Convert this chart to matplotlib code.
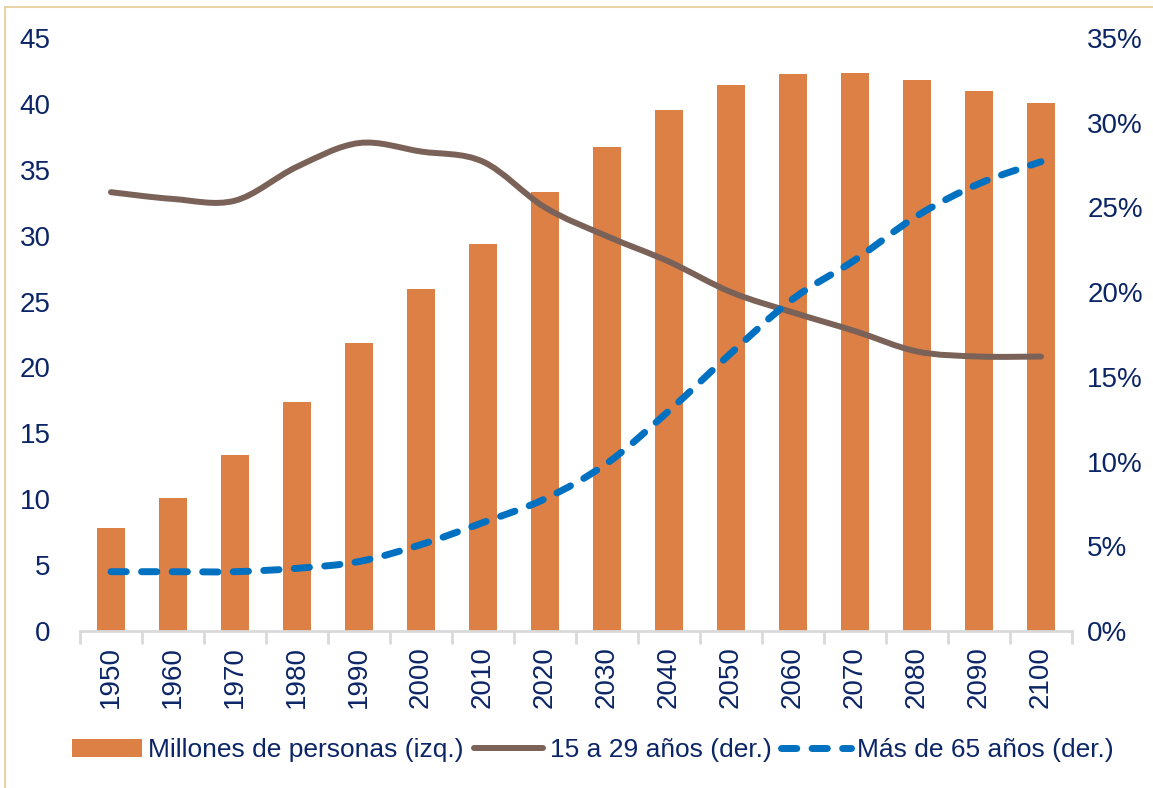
import numpy as np
import matplotlib
matplotlib.use('Agg')
import matplotlib.pyplot as plt
from matplotlib.path import Path
from matplotlib.patches import PathPatch, Patch, Rectangle
from matplotlib.lines import Line2D
from matplotlib.ticker import FuncFormatter

plt.rcParams['font.family'] = ['Liberation Sans Narrow', 'Liberation Sans', 'DejaVu Sans']

# data
years = ['1950', '1960', '1970', '1980', '1990', '2000', '2010', '2020',
         '2030', '2040', '2050', '2060', '2070', '2080', '2090', '2100']
millones = [7.8, 10.1, 13.35, 17.4, 21.85, 25.95, 29.4, 33.3,
            36.7, 39.5, 41.4, 42.3, 42.35, 41.8, 41.0, 40.05]
jovenes_15_29 = [25.9, 25.5, 25.4, 27.4, 28.8, 28.3, 27.7, 25.0,
                 23.3, 21.8, 20.0, 18.8, 17.7, 16.5, 16.2, 16.2]
mayores_65 = [3.5, 3.5, 3.5, 3.7, 4.1, 5.1, 6.4, 7.8,
              9.9, 13.0, 16.4, 19.6, 21.9, 24.5, 26.4, 27.7]

NAVY = '#0B2566'
ORANGE = '#DD8046'
BROWN = '#7A6258'
BLUE = '#0070C0'
FS_TICK = 20
FS_LEG = 19
DASH = (0, (2.2, 2.2))


def smooth_path(xs, ys):
    # excel-like smoothed line: catmull-rom segments as cubic beziers
    pts = np.column_stack([xs, ys]).astype(float)
    n = len(pts)
    verts = [pts[0]]
    codes = [Path.MOVETO]
    for i in range(n - 1):
        p0 = pts[max(i - 1, 0)]
        p1 = pts[i]
        p2 = pts[i + 1]
        p3 = pts[min(i + 2, n - 1)]
        c1 = p1 + (p2 - p0) / 6.0
        c2 = p2 - (p3 - p1) / 6.0
        verts += [c1, c2, p2]
        codes += [Path.CURVE4] * 3
    return Path(verts, codes)


fig = plt.figure(figsize=(11.53, 7.88), dpi=100)
ax = fig.add_axes([80 / 1153, 1 - 631 / 788, (1072 - 80) / 1153, (631 - 38) / 788])
ax2 = ax.twinx()

x = np.arange(len(years))
ax.bar(x, millones, width=0.45, color=ORANGE, zorder=2)
ax.set_xlim(-0.5, len(years) - 0.5)
ax.set_ylim(0, 45)
ax.set_yticks(range(0, 46, 5))
ax.set_xticks(x)
ax.set_xticklabels(years, rotation=90)
ax.set_xticks(np.arange(-0.5, len(years), 1), minor=True)
ax.tick_params(axis='x', which='major', length=0, pad=11, labelsize=FS_TICK, labelcolor=NAVY)
ax.tick_params(axis='x', which='minor', length=9, width=2, color='#D9D9D9')
ax.tick_params(axis='y', length=0, pad=21, labelsize=FS_TICK, labelcolor=NAVY)

ax2.set_ylim(0, 35)
ax2.set_yticks(range(0, 36, 5))
ax2.yaxis.set_major_formatter(FuncFormatter(lambda v, p: f'{v:.0f}%'))
ax2.tick_params(axis='y', length=0, pad=11, labelsize=FS_TICK, labelcolor=NAVY)

for a in (ax, ax2):
    for s in ['top', 'left', 'right']:
        a.spines[s].set_visible(False)
    a.spines['bottom'].set_color('#D9D9D9')
    a.spines['bottom'].set_linewidth(2)
ax2.spines['bottom'].set_visible(False)

ax2.add_patch(PathPatch(smooth_path(x, jovenes_15_29), fill=False, edgecolor=BROWN,
                        linewidth=4.3, capstyle='round', zorder=3))
ax2.add_patch(PathPatch(smooth_path(x, mayores_65), fill=False, edgecolor=BLUE,
                        linewidth=5, linestyle=DASH, capstyle='round', zorder=4))

handles = [Patch(facecolor=ORANGE),
           Line2D([], [], color=BROWN, linewidth=4.3, solid_capstyle='round'),
           Line2D([], [], color=BLUE, linewidth=5, linestyle=DASH,
                  dash_capstyle='round')]
labels = ['Millones de personas (izq.)', '15 a 29 años (der.)', 'Más de 65 años (der.)']
leg = fig.legend(handles, labels, loc='center', bbox_to_anchor=(593 / 1153, 1 - 750 / 788),
                 ncol=3, frameon=False, fontsize=FS_LEG, handlelength=2.65, handletextpad=0.23,
                 columnspacing=0.38, handleheight=0.65, borderpad=0)
for t in leg.get_texts():
    t.set_color(NAVY)

fig.add_artist(Rectangle((5 / 1153, -0.1), 1.2, 1.1 - 7 / 788, transform=fig.transFigure,
                         fill=False, edgecolor='#E8D3A6', linewidth=1.5))

fig.savefig('out.png', dpi=100)
